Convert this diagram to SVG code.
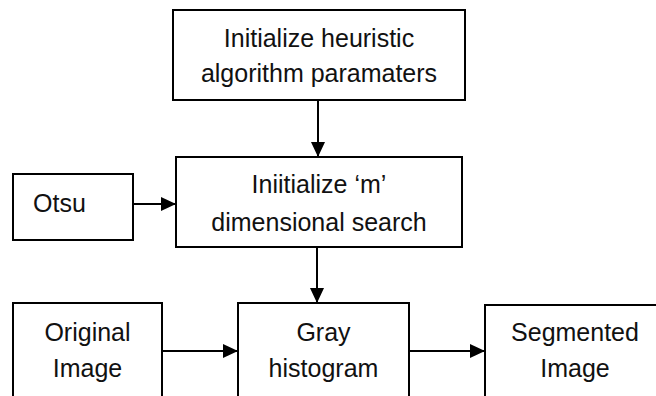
<svg xmlns="http://www.w3.org/2000/svg" width="656" height="396" viewBox="0 0 656 396">
  <style>
    .box { fill: #ffffff; stroke: #000000; stroke-width: 2; }
    .lbl { font-family: "Liberation Sans", Arial, sans-serif; font-size: 25px; fill: #111111; text-anchor: middle; }
    .edge { fill: none; stroke: #000000; stroke-width: 2; marker-end: url(#arrow); }
  </style>
  <defs>
    <marker id="arrow" markerUnits="userSpaceOnUse" markerWidth="15" markerHeight="14" refX="15" refY="7" orient="auto">
      <path d="M0,0 L15,7 L0,14 Z" fill="#000000"/>
    </marker>
  </defs>
  <rect width="656" height="396" fill="#ffffff"/>

  <g id="init-params">
    <rect class="box" x="173" y="10" width="292" height="90"/>
    <text class="lbl" x="319" y="47">Initialize heuristic</text>
    <text class="lbl" x="319" y="82">algorithm paramaters</text>
  </g>

  <g id="init-search">
    <rect class="box" x="176" y="157" width="286" height="90"/>
    <text class="lbl" x="319" y="193">Iniitialize ‘m’</text>
    <text class="lbl" x="319" y="231">dimensional search</text>
  </g>

  <g id="otsu">
    <rect class="box" x="13" y="174" width="120" height="66"/>
    <text class="lbl" x="33" y="212" style="text-anchor:start">Otsu</text>
  </g>

  <g id="original-image">
    <rect class="box" x="13" y="303" width="149" height="110"/>
    <text class="lbl" x="87.5" y="341">Original</text>
    <text class="lbl" x="87.5" y="377">Image</text>
  </g>

  <g id="gray-histogram">
    <rect class="box" x="238" y="303" width="171" height="110"/>
    <text class="lbl" x="323.5" y="341">Gray</text>
    <text class="lbl" x="323.5" y="377">histogram</text>
  </g>

  <g id="segmented-image">
    <rect class="box" x="485" y="305" width="200" height="110"/>
    <text class="lbl" x="575" y="341">Segmented</text>
    <text class="lbl" x="575" y="377">Image</text>
  </g>

  <g id="connectors">
    <line class="edge" x1="318" y1="100" x2="318" y2="157"/>
    <line class="edge" x1="133" y1="204" x2="176" y2="204"/>
    <line class="edge" x1="317" y1="247" x2="317" y2="303"/>
    <line class="edge" x1="162" y1="351" x2="238" y2="351"/>
    <line class="edge" x1="409" y1="351" x2="485" y2="351"/>
  </g>
</svg>
